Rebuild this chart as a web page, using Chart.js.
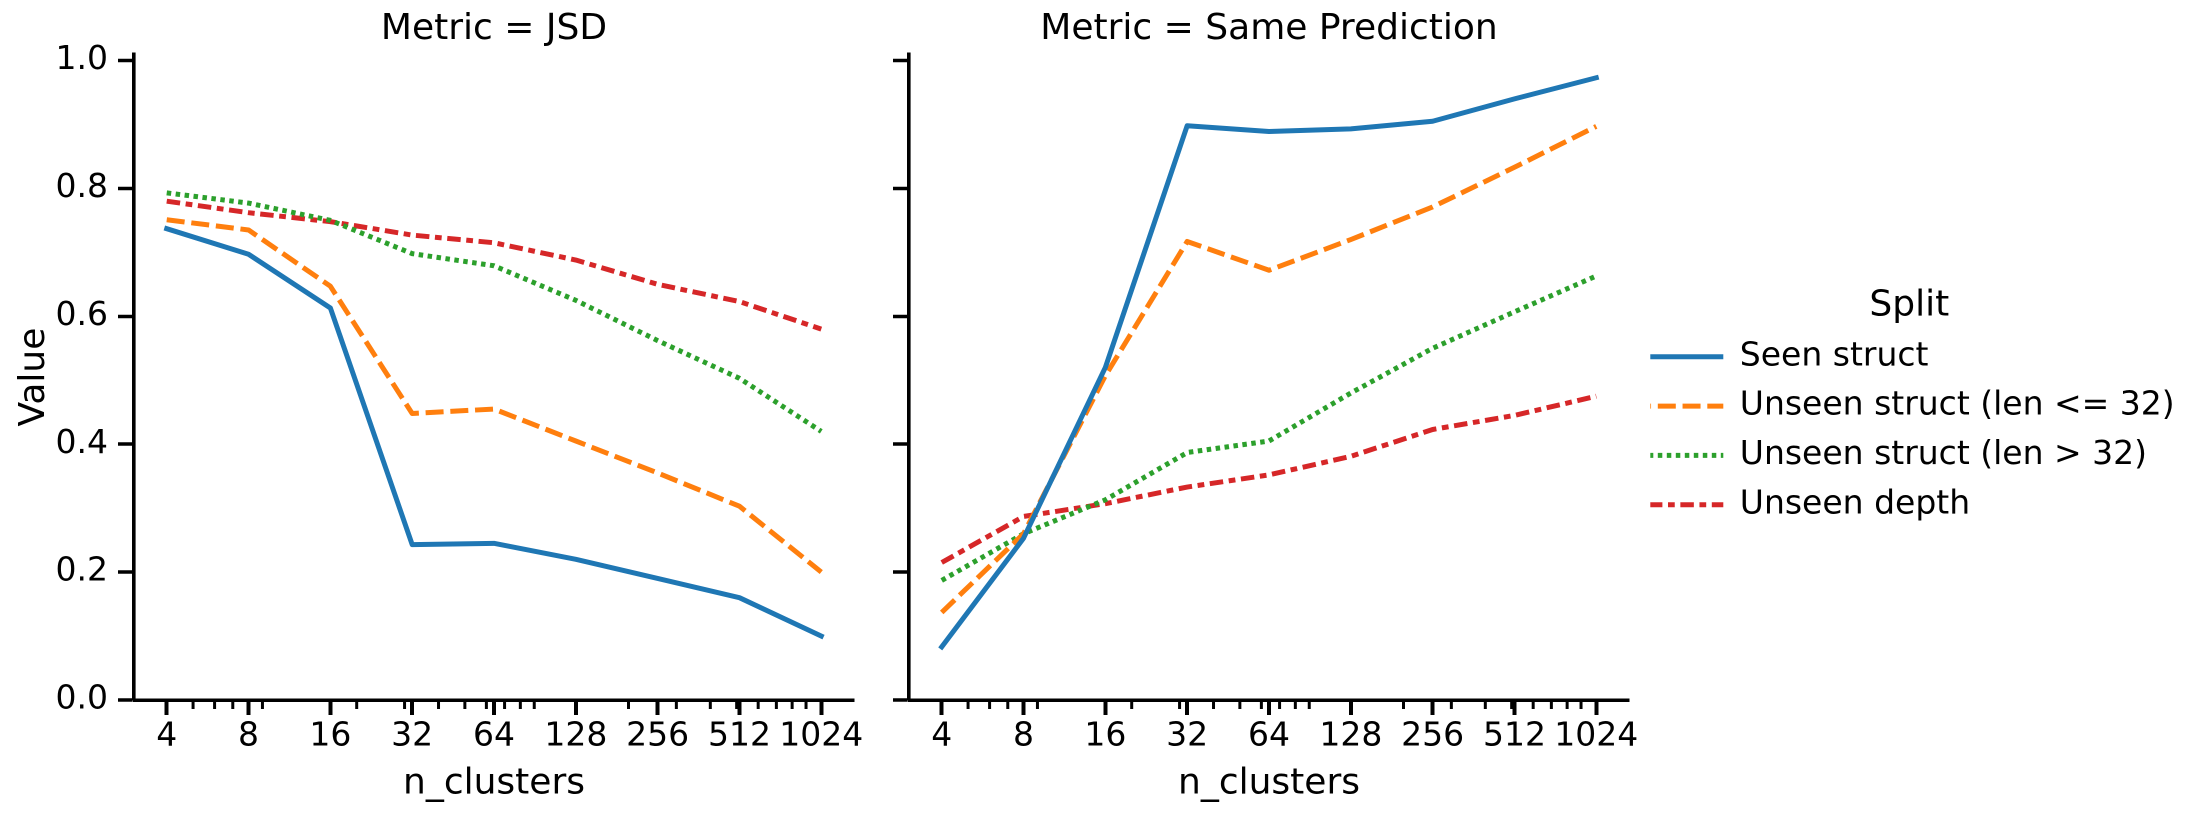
<!DOCTYPE html>
<html><head><meta charset="utf-8">
<script src="https://cdn.jsdelivr.net/npm/chart.js@4.4.1/dist/chart.umd.min.js"></script>
<style>
html,body{margin:0;padding:0;overflow:hidden;background:#fff;width:2203px;height:814px;}
#wrap{position:absolute;left:0;top:0;width:2203px;height:814px;overflow:hidden;}
#wrap canvas{position:absolute;}
</style></head><body>
<div id="wrap">
<canvas id="c1"></canvas><canvas id="c2"></canvas><canvas id="c3"></canvas>
</div>
<script>
// ---- data ----
const nClusters = [4, 8, 16, 32, 64, 128, 256, 512, 1024];
const seriesNames = ['Seen struct', 'Unseen struct (len <= 32)', 'Unseen struct (len > 32)', 'Unseen depth'];
const panelTitles = ['Metric = JSD', 'Metric = Same Prediction'];
const jsdSeen      = [0.737, 0.697, 0.613, 0.243, 0.245, 0.220, 0.190, 0.160, 0.100];
const jsdUnseenLe  = [0.751, 0.735, 0.647, 0.448, 0.455, 0.405, 0.355, 0.303, 0.200];
const jsdUnseenGt  = [0.793, 0.777, 0.750, 0.698, 0.679, 0.625, 0.562, 0.503, 0.420];
const jsdDepth     = [0.780, 0.762, 0.748, 0.727, 0.715, 0.688, 0.650, 0.623, 0.580];
const spSeen       = [0.083, 0.253, 0.520, 0.898, 0.889, 0.893, 0.905, 0.940, 0.973];
const spUnseenLe   = [0.137, 0.260, 0.507, 0.717, 0.672, 0.720, 0.771, 0.833, 0.897];
const spUnseenGt   = [0.187, 0.260, 0.313, 0.387, 0.405, 0.480, 0.550, 0.607, 0.663];
const spDepth      = [0.215, 0.287, 0.307, 0.333, 0.352, 0.381, 0.423, 0.445, 0.475];
const xMajorTicks  = [4, 8, 16, 32, 64, 128, 256, 512, 1024];
const xMinorTicks  = [5, 6, 7, 9, 20, 30, 40, 50, 60, 70, 80, 90, 200, 300, 400, 500, 600, 700, 800, 900];
const yTicks       = [0, 0.2, 0.4, 0.6, 0.8, 1.0];

// ---- style ----
Chart.defaults.font.family = 'DejaVu Sans';
Chart.defaults.color = '#000';
const colors = ['#1f77b4', '#ff7f0e', '#2ca02c', '#d62728'];
const dashes = [[], [18, 6.75], [4.5, 4.5], [13.5, 5.6, 6.75, 5.6]];
const legendDashOffsets = [0, 17.25, 1.5, 1.4];
const LW = 5;
const TICK_FONT = 33, LABEL_FONT = 36;
const X_MIN = Math.pow(2, 1.6), X_MAX = Math.pow(2, 10.4), Y_MIN = 0, Y_MAX = 1.01;

function makeDatasets(list, withData) {
  return list.map((vals, i) => ({
    label: seriesNames[i],
    data: withData ? nClusters.map((n, j) => ({x: n, y: vals[j]})) : [],
    borderColor: colors[i], backgroundColor: colors[i],
    borderWidth: LW, borderDash: dashes[i],
    borderCapStyle: i === 0 ? 'square' : 'butt', borderJoinStyle: 'round',
    pointRadius: 0, pointHoverRadius: 0, fill: false, tension: 0
  }));
}

const minorTickPlugin = {
  id: 'minorTicks',
  afterDraw(chart, args, opts) {
    const sc = chart.scales.x, ctx = chart.ctx, y0 = chart.chartArea.bottom;
    ctx.save();
    ctx.strokeStyle = '#000';
    ctx.lineWidth = opts.width;
    xMinorTicks.forEach(v => {
      if (v < sc.min || v > sc.max) return;
      const px = sc.getPixelForValue(v);
      ctx.beginPath(); ctx.moveTo(px, y0); ctx.lineTo(px, y0 + opts.length); ctx.stroke();
    });
    ctx.restore();
  }
};

function panelOptions(idx, yAxisWidth, padRight, showYLabels) {
  return {
    responsive: false, maintainAspectRatio: false, animation: false, devicePixelRatio: 2,
    layout: {padding: {left: 0, right: padRight, top: 0, bottom: 0}},
    events: [],
    scales: {
      x: {
        type: 'logarithmic', min: X_MIN, max: X_MAX,
        afterBuildTicks: s => { s.ticks = xMajorTicks.map(v => ({value: v})); },
        afterFit: s => { s.height = 114; },
        ticks: {autoSkip: false, maxRotation: 0, minRotation: 0, padding: 2, color: '#000',
                font: {size: TICK_FONT, lineHeight: 1.2}, callback: v => String(v)},
        grid: {display: true, drawOnChartArea: false, drawTicks: true, tickLength: 15, tickWidth: 4, tickColor: '#000'},
        border: {display: true, color: '#000', width: 3.5},
        title: {display: true, text: 'n_clusters', color: '#000', font: {size: LABEL_FONT, lineHeight: 1.2}, padding: {top: 0, bottom: 8.2}}
      },
      y: {
        type: 'linear', min: Y_MIN, max: Y_MAX,
        afterBuildTicks: s => { s.ticks = yTicks.map(v => ({value: v})); },
        afterFit: s => { s.width = yAxisWidth; },
        ticks: {padding: 10, color: '#000', font: {size: TICK_FONT, lineHeight: 1.2},
                callback: v => showYLabels ? Number(v).toFixed(1) : ''},
        grid: {display: true, drawOnChartArea: false, drawTicks: true, tickLength: 16, tickWidth: 3.5, tickColor: '#000'},
        border: {display: true, color: '#000', width: 3.6},
        title: {display: showYLabels, text: 'Value', color: '#000', font: {size: LABEL_FONT, lineHeight: 1.2}, padding: {top: 13, bottom: 0}}
      }
    },
    plugins: {
      legend: {display: false},
      tooltip: {enabled: false},
      title: {display: true, text: panelTitles[idx], fullSize: false, color: '#000',
              font: {size: LABEL_FONT, lineHeight: 1.2, weight: 'normal'}, padding: {top: 7.8, bottom: 3.1}},
      minorTicks: {width: 3, length: 9}
    }
  };
}

function setupCanvas(id, left, top, w, h) {
  const c = document.getElementById(id);
  c.width = w; c.height = h;
  c.style.left = left + 'px'; c.style.top = top + 'px';
  c.style.width = w + 'px'; c.style.height = h + 'px';
  return c;
}

// Left panel: JSD
new Chart(setupCanvas('c1', 0, 0, 880, 814), {
  type: 'line',
  data: {datasets: makeDatasets([jsdSeen, jsdUnseenLe, jsdUnseenGt, jsdDepth], true)},
  options: panelOptions(0, 134, 26, true),
  plugins: [minorTickPlugin]
});

// Right panel: Same Prediction
new Chart(setupCanvas('c2', 875, 0, 784, 814), {
  type: 'line',
  data: {datasets: makeDatasets([spSeen, spUnseenLe, spUnseenGt, spDepth], true)},
  options: panelOptions(1, 34, 30, false),
  plugins: [minorTickPlugin]
});

// Legend (hue = Split)
new Chart(setupCanvas('c3', 1634, 288, 1200, 320), {
  type: 'line',
  data: {datasets: makeDatasets([spSeen, spUnseenLe, spUnseenGt, spDepth], false)},
  options: {
    responsive: false, maintainAspectRatio: false, animation: false, devicePixelRatio: 2, events: [],
    layout: {padding: 0},
    scales: {x: {display: false}, y: {display: false}},
    plugins: {
      tooltip: {enabled: false},
      legend: {
        display: true, position: 'left', align: 'start',
        title: {display: true, text: 'Split', color: '#000', font: {size: LABEL_FONT, lineHeight: 1.0}, padding: 0},
        labels: {
          usePointStyle: true, pointStyle: 'line', pointStyleWidth: 73, padding: 16.3,
          color: '#000', font: {size: TICK_FONT},
          generateLabels: chart => chart.data.datasets.map((ds, i) => ({
            text: ds.label, fillStyle: ds.borderColor, strokeStyle: ds.borderColor,
            lineWidth: ds.borderWidth, lineDash: ds.borderDash, lineDashOffset: legendDashOffsets[i],
            lineCap: 'butt', lineJoin: 'round', pointStyle: 'line', fontColor: '#000',
            hidden: false, datasetIndex: i
          }))
        }
      }
    }
  }
});
</script>
</body></html>
